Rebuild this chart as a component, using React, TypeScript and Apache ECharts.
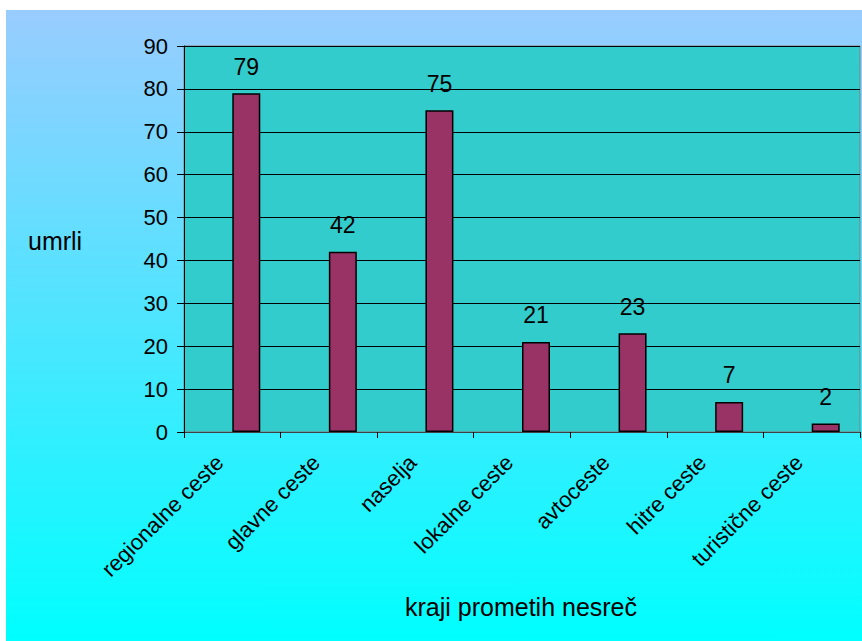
import React, { useEffect, useRef } from "react";
import * as echarts from "echarts";

const categories = [
  "regionalne ceste",
  "glavne ceste",
  "naselja",
  "lokalne ceste",
  "avtoceste",
  "hitre ceste",
  "turistične ceste",
];
const values = [79, 42, 75, 21, 23, 7, 2];
const emptySeries = categories.map(() => null);
const yTitle = "umrli";
const xTitle = "kraji prometih nesreč";

const FONT = "Liberation Sans, Arial, sans-serif";

export default function App() {
  const ref = useRef<HTMLDivElement>(null);
  useEffect(() => {
    if (!ref.current) return;
    const chart = echarts.init(ref.current, undefined, { renderer: "svg" });
    chart.setOption({
      animation: false,
      backgroundColor: {
        type: "linear",
        x: 0,
        y: 0,
        x2: 0,
        y2: 1,
        colorStops: [
          { offset: 0, color: "#99CCFF" },
          { offset: 1, color: "#00FFFF" },
        ],
      },
      grid: {
        left: 178,
        top: 36,
        right: 2,
        bottom: 209,
        show: true,
        backgroundColor: "#33CCCC",
        borderColor: "#808080",
        borderWidth: 1,
      },
      xAxis: {
        type: "category",
        data: categories,
        axisLine: { show: true, lineStyle: { color: "#404040", width: 1 } },
        axisTick: { show: true, length: 6, lineStyle: { color: "#000" } },
        axisLabel: {
          rotate: 45,
          interval: 0,
          margin: 14,
          padding: [0, 18, 0, 0],
          color: "#000",
          fontFamily: FONT,
          fontSize: 22,
        },
      },
      yAxis: {
        type: "value",
        min: 0,
        max: 90,
        interval: 10,
        axisLine: { show: true, lineStyle: { color: "#000", width: 1 } },
        axisTick: { show: true, length: 7, lineStyle: { color: "#000" } },
        axisLabel: {
          margin: 16,
          color: "#000",
          fontFamily: FONT,
          fontSize: 22,
        },
        splitLine: { show: true, lineStyle: { color: "#000", width: 1 } },
      },
      graphic: [
        {
          type: "text",
          x: 22,
          y: 231,
          style: {
            text: yTitle,
            fill: "#000",
            font: `25px ${FONT}`,
            textVerticalAlign: "middle",
          },
        },
        {
          type: "text",
          x: 515,
          y: 597,
          style: {
            text: xTitle,
            fill: "#000",
            font: `25px ${FONT}`,
            textAlign: "center",
            textVerticalAlign: "middle",
          },
        },
      ],
      series: [
        {
          type: "bar",
          data: emptySeries,
          barWidth: 28,
          barGap: "0%",
          itemStyle: { color: "transparent" },
        },
        {
          type: "bar",
          data: values,
          barWidth: 28,
          barGap: "0%",
          itemStyle: { color: "#993366", borderColor: "#000", borderWidth: 1.5 },
          label: {
            show: true,
            position: "top",
            distance: 15,
            color: "#000",
            fontFamily: FONT,
            fontSize: 23,
          },
        },
      ],
    });
    return () => chart.dispose();
  }, []);
  return (
    <div
      ref={ref}
      style={{ position: "fixed", left: 6, top: 10, width: 856, height: 631 }}
    />
  );
}
